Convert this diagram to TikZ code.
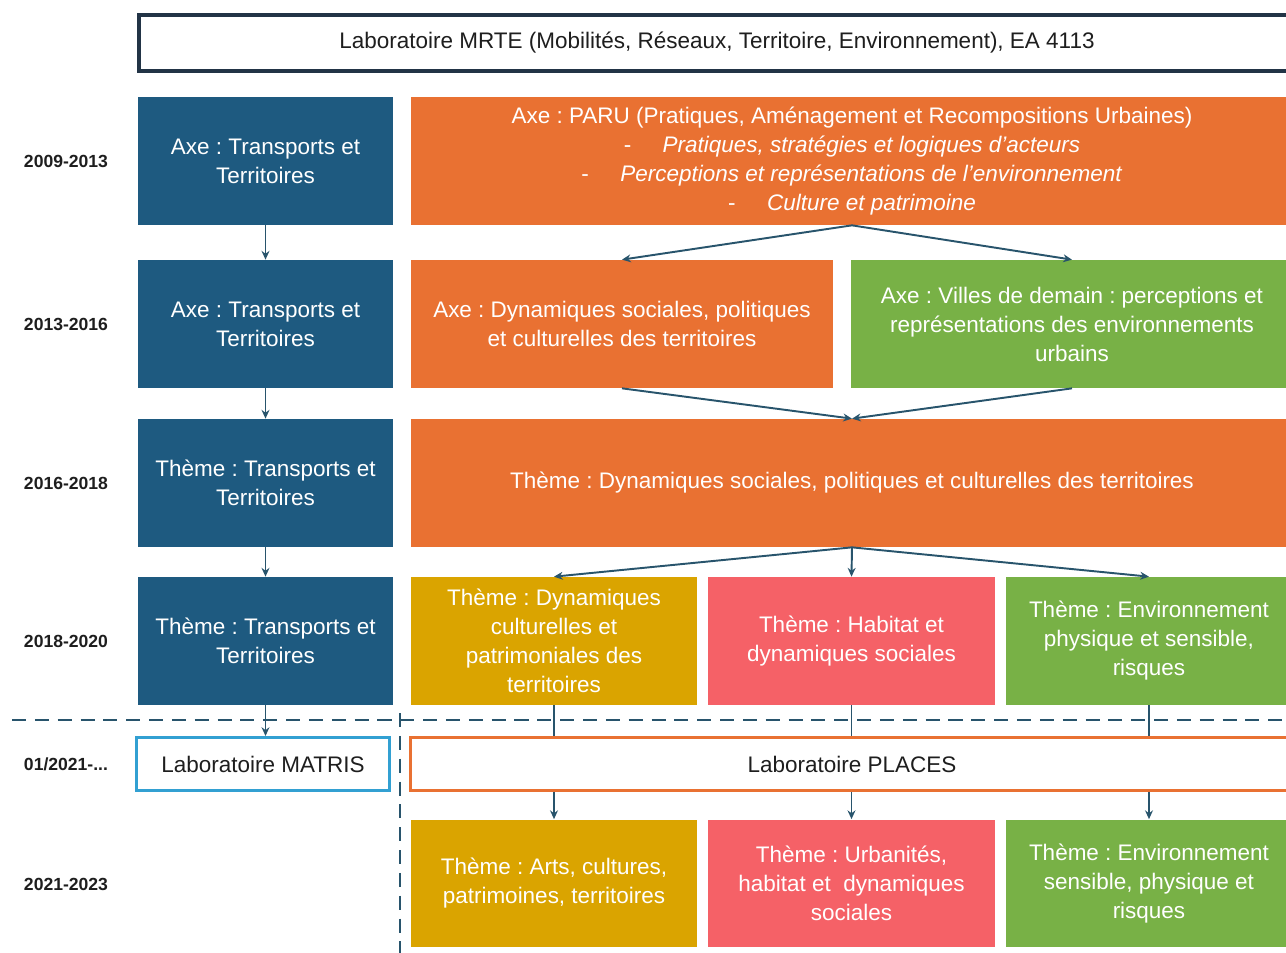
\documentclass[tikz,border=0pt]{standalone}
\usepackage{fontspec}
\setmainfont{Liberation Sans}
\usetikzlibrary{arrows.meta}
\frenchspacing

\definecolor{mrteblue}{RGB}{30,90,128}
\definecolor{mrteorange}{RGB}{233,113,50}
\definecolor{mrtegreen}{RGB}{120,177,70}
\definecolor{mrtegold}{RGB}{218,164,0}
\definecolor{mrtered}{RGB}{245,97,103}
\definecolor{mrtenavy}{RGB}{34,52,70}
\definecolor{linkcol}{RGB}{40,84,108}
\definecolor{matriscol}{RGB}{50,160,210}
\definecolor{yeartxt}{RGB}{30,30,30}

\begin{document}
\begin{tikzpicture}[x=0.02cm, y=-0.02cm, >={Stealth[length=5pt,width=4.5pt]},
  box/.style={rectangle, inner sep=2pt, align=center, text=white,
    font=\fontsize{12.8}{16.5}\selectfont, minimum height=2.56cm},
  labbox/.style={rectangle, inner sep=2pt, align=center, text=yeartxt,
    fill=white, line width=1.7pt, font=\fontsize{12.8}{16.5}\selectfont},
  year/.style={font=\bfseries\fontsize{10}{12}\selectfont, text=yeartxt},
  link/.style={->, draw=linkcol, line width=1.1pt},
  plain/.style={draw=linkcol, line width=1.1pt},
  sep/.style={draw=linkcol, line width=1.1pt, dash pattern=on 8pt off 5pt}]

  \useasboundingbox (0,0) rectangle (1286,953);

  % --- laboratoire d'origine ---
  \node[labbox, draw=mrtenavy, line width=2pt, minimum width=23.12cm,
    minimum height=1.12cm] (mrte) at (717,43)
    {Laboratoire MRTE (Mobilités, Réseaux, Territoire, Environnement), EA 4113};

  % --- périodes ---
  \node[year] (y1) at (66,161) {2009-2013};
  \node[year] (y2) at (66,324) {2013-2016};
  \node[year] (y3) at (66,483) {2016-2018};
  \node[year] (y4) at (66,641) {2018-2020};
  \node[year] (y5) at (66,764) {01/2021-...};
  \node[year] (y6) at (66,884) {2021-2023};

  % --- séparations 2021 ---
  \draw[sep] (12,720) -- (1300,720);
  \draw[sep] (400,713) -- (400,960);

  % --- colonne transports ---
  \node[box, fill=mrteblue, minimum width=5.1cm] (tt1) at (265.5,161) {Axe : Transports et\\Territoires};
  \node[box, fill=mrteblue, minimum width=5.1cm] (tt2) at (265.5,324) {Axe : Transports et\\Territoires};
  \node[box, fill=mrteblue, minimum width=5.1cm] (tt3) at (265.5,483) {Thème : Transports et\\Territoires};
  \node[box, fill=mrteblue, minimum width=5.1cm] (tt4) at (265.5,641) {Thème : Transports et\\Territoires};

  % --- 2009-2013 : axe PARU ---
  \node[box, fill=mrteorange, minimum width=17.64cm] (paru) at (852,161)
    {Axe : PARU (Pratiques, Aménagement et Recompositions Urbaines)\\
     -\hspace{1.4em}\textit{Pratiques, stratégies et logiques d’acteurs}\\
     -\hspace{1.4em}\textit{Perceptions et représentations de l’environnement}\\
     -\hspace{1.4em}\textit{Culture et patrimoine}};

  % --- 2013-2016 ---
  \node[box, fill=mrteorange, minimum width=8.44cm] (dyn) at (622,324)
    {Axe : Dynamiques sociales, politiques\\et culturelles des territoires};
  \node[box, fill=mrtegreen, minimum width=8.84cm] (villes) at (1072,324)
    {Axe : Villes de demain : perceptions et\\représentations des environnements\\urbains};

  % --- 2016-2018 ---
  \node[box, fill=mrteorange, minimum width=17.64cm] (dyn3) at (852,483)
    {Thème : Dynamiques sociales, politiques et culturelles des territoires};

  % --- 2018-2020 ---
  \node[box, fill=mrtegold, minimum width=5.72cm] (cult4) at (554,641)
    {Thème : Dynamiques\\culturelles et\\patrimoniales des\\territoires};
  \node[box, fill=mrtered, minimum width=5.74cm] (hab4) at (851.5,641)
    {Thème : Habitat et\\dynamiques sociales};
  \node[box, fill=mrtegreen, minimum width=5.72cm] (env4) at (1149,641)
    {Thème : Environnement\\physique et sensible,\\risques};

  % --- 01/2021 : nouveaux laboratoires ---
  \node[labbox, draw=matriscol, minimum width=5.06cm, minimum height=1.06cm] (matris) at (263,764)
    {Laboratoire MATRIS};
  \node[labbox, draw=mrteorange, minimum width=17.68cm, minimum height=1.06cm] (places) at (852,764)
    {Laboratoire PLACES};

  % --- 2021-2023 ---
  \node[box, fill=mrtegold, minimum width=5.72cm] (arts) at (554,883.5)
    {Thème : Arts, cultures,\\patrimoines, territoires};
  \node[box, fill=mrtered, minimum width=5.74cm] (urb) at (851.5,883.5)
    {Thème : Urbanités,\\habitat et~ dynamiques\\sociales};
  \node[box, fill=mrtegreen, minimum width=5.72cm] (envr) at (1149,883.5)
    {Thème : Environnement\\sensible, physique et\\risques};

  % --- filiations ---
  \draw[link] (tt1) -- (tt2);
  \draw[link] (tt2) -- (tt3);
  \draw[link] (tt3) -- (tt4);
  \draw[link] (tt4.south) -- (tt4.south |- matris.north);

  \draw[link] (paru.south) -- (dyn.north);
  \draw[link] (paru.south) -- (villes.north);
  \draw[link] (dyn.south) -- (dyn3.north);
  \draw[link] (villes.south) -- (dyn3.north);

  \draw[link] (dyn3.south) -- (cult4.north);
  \draw[link] (dyn3.south) -- (hab4.north);
  \draw[link] (dyn3.south) -- (env4.north);

  \draw[plain] (cult4.south) -- (cult4.south |- places.north);
  \draw[plain] (hab4.south) -- (hab4.south |- places.north);
  \draw[plain] (env4.south) -- (env4.south |- places.north);

  \draw[link] (arts.north |- places.south) -- (arts.north);
  \draw[link] (urb.north |- places.south) -- (urb.north);
  \draw[link] (envr.north |- places.south) -- (envr.north);

\end{tikzpicture}
\end{document}
